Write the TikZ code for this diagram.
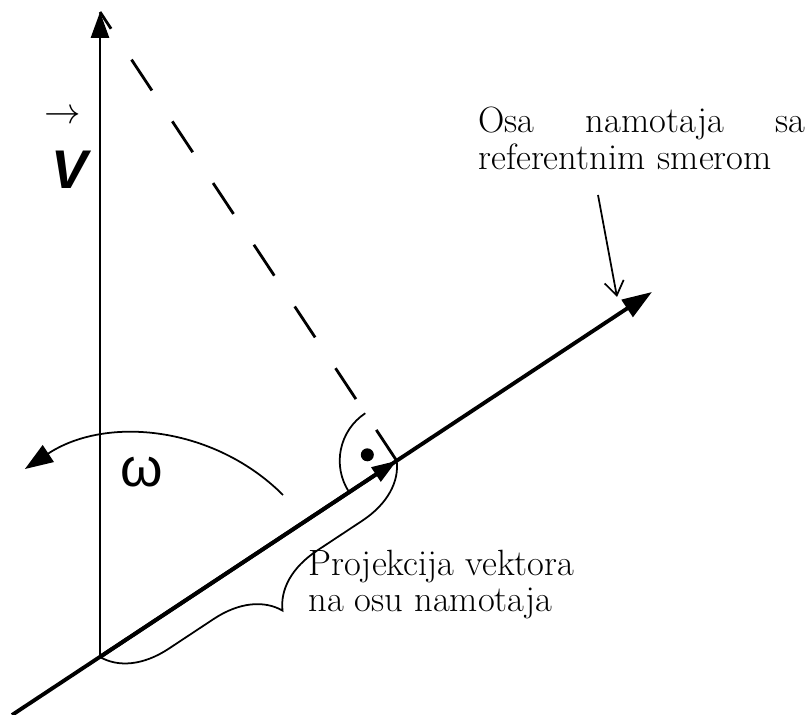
\documentclass[tikz,border=0pt]{standalone}
\usepackage{fontspec}
\newfontfamily\arialfont{Liberation Sans}
\usetikzlibrary{arrows.meta,calc,decorations.pathreplacing}
\tikzset{
  >={Triangle[length=14.8pt,width=10.2pt]},
  vaxis/.style={->,line width=1.7pt},
  oaxis/.style={-{Triangle[length=17pt,width=11.4pt]},line width=2.2pt},
  projarrow/.style={-{Triangle[length=14.2pt,width=9.4pt]},line width=2.2pt},
  dashline/.style={line width=1.6pt,dash pattern=on 0.74cm off 0.74cm},
  thinline/.style={line width=1pt},
  omarc/.style={thinline,-{Triangle[length=16pt,width=11.4pt]}},
  pointer/.style={thinline,-{Straight Barb[length=8pt,width=11pt]}},
  projbrace/.style={thinline,decorate,
    decoration={brace,mirror,amplitude=1.24cm}},
  rdot/.style={circle,fill=black,inner sep=0pt,minimum size=0.26cm},
  txt/.style={font=\fontsize{20.8}{21}\selectfont,inner sep=0pt},
  biglbl/.style={font=\arialfont\fontsize{31}{31}\selectfont,inner sep=0pt},
}
\begin{document}
\begin{tikzpicture}[x=0.02cm,y=0.02cm]
  \useasboundingbox (0,0) rectangle (810,715);
  % axes
  \coordinate (O) at (100,58);
  \coordinate (Vt) at (100,703);
  \coordinate (A0) at (12,0);
  \coordinate (A1) at (652,423);
  \coordinate (P) at ($(O)!(Vt)!(A1)$);
  \draw[oaxis] (A0) -- (A1);
  \draw[vaxis] (O) -- (Vt);
  \draw[projarrow] (O) -- (P);
  \draw[dashline] (P) -- (Vt);
  % right angle
  \draw[thinline] ($(P)+(123.5:57)$) arc[start angle=123.5,end angle=213.5,radius=57];
  \node[rdot] (dot) at ($(P)+(168.5:30)$) {};
  % rotation
  \coordinate (wstart) at (283,220);
  \draw[omarc] (wstart) arc[start angle=45,end angle=123.5,radius=205];
  \node[biglbl] (omega) at (142,243) {ω};
  \node[biglbl,font=\arialfont\bfseries\itshape\fontsize{31}{31}\selectfont] (vlabel) at (70,545) {V};
  \node[inner sep=0pt,font=\fontsize{21}{21}\selectfont] (varrow) at (63,598) {$\rightarrow$};
  % labels
  \draw[projbrace] (O) -- (P);
  \node[txt,anchor=base west,text width=6.54cm] (axislbl) at (478,582)
    {\makebox[6.54cm]{Osa\hfill namotaja\hfill sa}\\referentnim smerom};
  \coordinate (ptrstart) at (598,520);
  \coordinate (ptrend) at (617,418);
  \draw[pointer] (ptrstart) -- (ptrend);
  \node[txt,anchor=base west,align=left] (projlbl) at (308,103)
    {Projekcija vektora\\na osu namotaja};
\end{tikzpicture}
\end{document}
